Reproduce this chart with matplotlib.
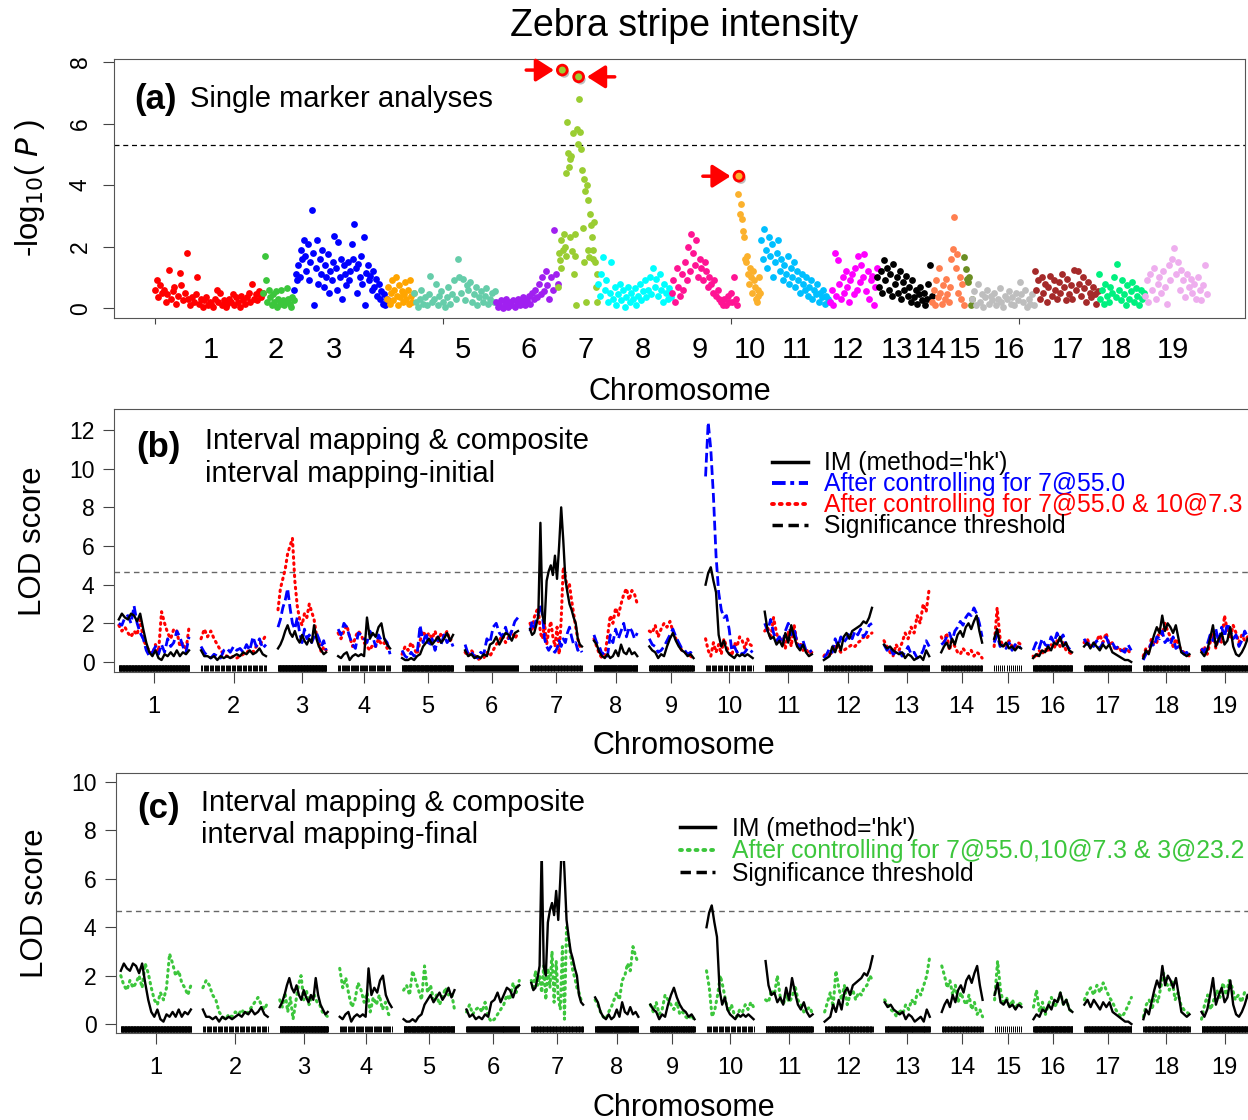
import numpy as np
import matplotlib.pyplot as plt
from matplotlib import patheffects as pe
from matplotlib.lines import Line2D
from matplotlib.patches import Rectangle
from matplotlib.transforms import blended_transform_factory

plt.rcParams['font.family'] = ['Liberation Sans', 'DejaVu Sans']

chroms = [str(i) for i in range(1, 20)]
# markers per chromosome (panel a width) and map length in cM (panels b, c)
n_markers = [188, 54, 161, 47, 142, 108, 69, 128, 115, 40, 120, 82, 95, 56, 14, 108, 111, 80, 109]
map_len = [146, 135, 100, 108, 106, 110, 108, 90, 92, 98, 98, 100, 94, 85, 56, 81, 98, 96, 96]
# where the chromosome numbers sit on the marker-index axis of panel (a)
label_pos_a = [97, 210, 311, 437, 535, 649, 748, 847, 946, 1033, 1114, 1203, 1288, 1347, 1406, 1483, 1585, 1668, 1767]
chrom_colors = ['#FF0000', '#3CC63C', '#0000FF', '#FFA500', '#66CDAA', '#A020F0', '#9ACD32',
                '#00FFFF', '#FF1493', '#FBB12D', '#00BFFF', '#FF00FF', '#000000', '#FF7F50',
                '#6B8E23', '#BEBEBE', '#A52A2A', '#00F07F', '#EEAEEE']

neglogp = [
    "0.6 0.9 0.35 0.75 0.5 0.6 0.2 0.45 1.25 0.3 0.55 0.7 0.15 0.4 1.15 0.75 0.25 0.5 1.8 0.3 0.1 0.35 0.2 0.45 1.0 0.15 0.3 0.05 0.25 0.35 0.1 0.2 0.15 0.05 0.3 0.6 0.2 0.5 0.1 0.25 0.05 0.15 0.3 0.2 0.45 0.1 0.35 0.2 0.05 0.4 0.25 0.15 0.35 0.5 0.2 0.8 0.3 0.45 0.25 0.55 0.35 0.5",
    "0.5 1.7 0.9 0.2 0.6 0.35 0.1 0.45 0.2 0.55 0.05 0.3 0.15 0.6 0.25 0.1 0.2 0.65 0.3 0.15 0.05 0.35 0.25",
    "0.6 1.1 0.9 1.4 1.0 1.9 1.6 2.2 1.7 1.2 2.1 0.9 1.5 3.2 1.8 0.1 1.3 2.2 0.8 1.6 1.1 1.9 0.7 1.4 1.0 1.75 0.5 1.2 0.9 1.5 2.35 1.3 0.6 2.15 1.0 1.6 0.3 1.4 1.1 0.75 1.5 0.9 1.2 2.1 1.6 2.75 1.3 0.5 1.45 1.0 1.7 0.8 2.3 0.1 1.15 1.4 0.9 1.05 0.6 1.2 0.7 0.95 0.4 0.8 0.3 0.55 0.15 0.45 0.1 0.3",
    "0.3 0.7 0.15 0.5 0.9 0.25 0.6 1.0 0.4 0.1 0.75 0.35 0.55 0.2 0.45 0.85 0.3 0.6 0.15 0.9 0.4 0.2 0.5",
    "0.5 0.2 0.05 0.3 0.6 0.15 0.35 0.1 0.45 1.05 0.2 0.3 0.8 0.1 0.4 0.55 0.2 0.05 0.35 0.7 0.15 0.45 0.9 0.3 1.6 1.0 0.5 0.95 0.25 0.75 0.6 0.85 0.2 0.45 0.7 0.1 0.35 0.55 0.2 0.4 0.65 0.15 0.3 0.5 0.2 0.55",
    "0.2 0.05 0.1 0.25 0.0 0.15 0.3 0.05 0.2 0.1 0.25 0.05 0.15 0.3 0.1 0.2 0.35 0.1 0.25 0.4 0.15 0.5 0.3 0.6 0.35 0.8 0.45 1.0 0.55 1.2 0.75 0.3 1.0 0.6 2.55 1.1 0.8",
    "0.7 1.8 1.55 2.2 1.3 7.74 1.9 2.4 2.0 4.4 1.7 6.06 5.03 4.6 4.84 2.3 4.95 1.85 5.68 1.1 2.4 1.7 0.1 5.84 5.35 7.52 6.8 5.74 5.19 4.5 2.6 4.2 1.5 3.8 0.2 4.0 3.5 1.9 1.65 3.06 2.7 2.3 1.9 1.6 2.8 1.5 0.7 0.2 1.1",
    "0.8 0.4 1.1 1.65 0.6 0.9 0.2 0.5 1.5 0.3 0.7 0.1 0.45 0.8 0.25 0.6 0.05 0.35 0.7 0.2 0.5 0.3 0.65 0.1 0.4 0.8 0.25 0.55 0.9 0.35 0.6 1.0 0.45 1.3 0.7 0.95 0.4 1.1 0.6 0.2 0.8 0.5 0.3 0.65 0.35",
    "0.5 0.9 0.2 1.3 0.7 0.4 1.1 0.6 1.5 0.9 2.0 1.2 2.4 1.8 1.4 2.2 1.0 1.6 1.3 0.9 1.5 1.2 0.7 1.0 0.8 0.5 0.9 0.4 0.6 0.3 0.2 0.1 0.3 0.1 0.4 0.2 0.5 0.2 1.0 0.3 0.1",
    "3.7 4.29 3.06 3.4 2.9 2.5 2.3 1.6 1.5 1.7 1.1 0.8 1.3 1.0 0.5 1.2 0.9 0.7 0.3 0.2 0.6 0.4 1.0 0.5",
    "2.2 1.6 2.57 1.9 1.3 2.3 1.7 2.1 1.0 1.5 1.8 2.2 1.2 1.6 0.9 1.4 1.1 1.7 0.8 1.3 1.0 1.5 0.7 1.2 0.9 0.5 1.1 0.8 0.6 1.0 0.4 0.7 0.9 0.3 0.6 0.45 0.8 0.2 0.5 0.35 0.6 0.15 0.4 0.3 0.2",
    "0.2 0.6 0.1 1.8 0.4 1.55 0.8 0.3 1.0 0.5 1.2 0.7 0.2 0.9 1.1 0.45 1.3 0.6 1.7 0.85 1.4 1.0 1.75 0.55 1.2 0.3 0.9 1.05 0.1 0.7 1.3",
    "1.0 0.7 1.2 0.5 1.55 0.9 1.3 0.6 1.1 0.4 1.45 0.8 1.0 0.5 1.2 0.3 0.85 0.6 1.05 0.4 0.7 0.2 0.9 0.35 0.6 0.15 0.45 0.7 0.25 0.5 0.1 0.3 0.8 1.4 0.4",
    "0.2 0.6 0.1 0.9 0.35 1.3 0.5 0.15 0.75 0.3 0.95 0.45 0.2 0.7 1.6 1.93 2.95 1.3 1.75 0.5 1.0 0.3 0.8 0.1",
    "1.65 1.27 0.95 0.85 1.0 0.1 0.3",
    "0.3 0.55 0.1 0.8 0.2 0.45 0.05 0.35 0.6 0.15 0.4 0.25 0.5 0.1 0.3 0.65 0.2 0.05 0.4 0.3 0.55 0.15 0.35 0.1 0.5 0.25 0.85 0.45 0.2 0.6 0.05 0.3 0.15 0.45 0.1",
    "1.2 0.6 0.9 0.3 1.0 0.5 0.8 0.2 0.7 1.05 0.4 0.9 0.6 0.3 0.85 0.5 1.1 0.7 0.25 0.95 0.45 0.75 0.3 1.25 0.6 1.2 0.8 0.4 1.0 0.65 0.2 0.85 0.5 0.35 0.7 0.45 0.15 0.55",
    "1.1 0.3 0.6 0.15 0.8 0.4 0.2 0.7 0.5 1.0 0.35 1.45 0.6 0.25 0.9 0.45 0.1 0.75 0.3 0.55 0.85 0.2 0.65 0.4 0.1 0.6 0.3 0.5",
    "0.4 0.9 0.2 1.1 0.6 1.3 0.3 0.8 1.0 0.5 1.2 0.7 0.15 1.4 0.9 1.6 1.97 1.1 1.5 0.6 1.25 0.9 0.35 1.1 0.7 0.95 0.5 0.8 0.3 1.0 0.6 0.25 0.75 1.4 0.45",
]
# top hits marked with red arrows: (chromosome, -log10 P, arrow side)
top_hits = [(7, 7.74, 'left'), (7, 7.52, 'right'), (10, 4.29, 'left')]
sig_p = 5.32

lod_im = [
    "2.2 2.5 2.3 2.2 2.5 2.4 2.1 2.5 1.7 1.0 0.5 0.3 0.6 0.2 0.1 0.4 0.3 0.5 0.3 0.6 0.3 0.5 0.4 0.6",
    "0.6 0.3 0.3 0.2 0.3 0.1 0.3 0.2 0.3 0.2 0.3 0.4 0.3 0.5 0.4 0.6 0.4 0.5 0.7 0.4 0.3",
    "0.7 0.9 1.2 1.6 1.9 1.5 1.3 1.6 1.2 1.0 1.4 1.1 0.9 1.2 1.0 1.9 1.2 0.8 0.6 0.4 0.5",
    "0.3 0.2 0.4 0.5 0.1 0.3 0.4 0.3 0.4 0.3 2.3 1.2 1.5 1.3 1.8 2.0 1.2 0.9 0.7",
    "0.2 0.1 0.1 0.2 0.1 0.3 0.4 0.8 1.0 1.2 0.9 1.1 1.3 1.0 1.2 1.5 1.1 1.4",
    "0.6 0.3 0.4 0.2 0.3 0.2 0.4 0.3 0.9 1.0 1.3 0.9 1.2 1.5 1.4 1.1 1.5 1.6",
    "1.7 1.4 1.5 1.9 2.4 7.2 2.4 2.0 4.2 4.7 5.0 4.5 5.5 4.3 6.0 8.0 6.3 4.3 3.6 3.0 2.7 2.3 2.0 1.2 0.9 0.8",
    "1.1 0.9 0.5 0.3 0.2 0.4 0.2 0.3 0.6 0.3 0.9 0.5 0.4 0.7 0.4 0.5 0.3",
    "0.8 0.6 0.5 0.2 0.4 0.3 0.8 1.2 1.5 1.1 0.8 0.6 0.5 0.3 0.4 0.2",
    "4.0 4.6 4.9 4.2 3.6 1.4 0.8 1.1 0.6 0.4 0.3 0.2 0.4 0.3 0.4 0.3 0.4 0.3 0.2",
    "2.6 1.6 1.2 1.3 0.9 1.1 0.8 1.5 1.0 1.9 1.3 0.8 0.6 0.9 0.5 0.3 0.4",
    "0.1 0.2 0.3 0.8 0.5 1.0 0.6 1.3 1.5 1.2 1.6 1.7 1.8 1.9 2.1 2.0 2.3 2.8",
    "0.9 0.7 0.8 0.6 0.5 0.4 0.5 0.2 0.4 0.3 0.1 0.2 0.3 0.1 0.6 0.3",
    "0.5 0.8 1.0 0.7 1.2 0.9 1.4 1.6 1.3 1.8 2.0 1.7 2.1 2.4 1.6 1.0",
    "1.2 1.7 0.9 0.8 1.0 0.7 0.8 0.6 0.8 0.7",
    "0.2 0.4 0.3 0.6 0.5 0.8 0.6 1.0 0.9 1.3 0.8 1.0 0.6 0.5",
    "0.8 1.0 0.7 1.0 0.8 0.6 0.9 0.7 0.9 0.5 0.4 0.3 0.2 0.1 0.1 0.0",
    "0.2 0.6 0.4 0.9 1.4 1.8 1.5 2.4 1.6 2.0 1.8 1.5 1.9 1.2 0.5 0.4 0.3 0.4",
    "0.5 0.3 0.6 1.2 1.9 0.8 1.2 1.5 0.9 1.1 1.8 0.8 0.4 0.3 0.5 0.8 1.2",
]
lod_cim_7 = [
    "2.0 1.9 2.3 2.4 2.0 2.9 2.0 1.5 1.2 0.6 0.3 0.5 0.8 0.4 0.9 0.5 1.2 0.8 1.0 1.6 1.3 0.8 0.5 1.3",
    "0.8 0.5 0.3 0.2 0.4 0.3 0.2 0.6 0.7 0.5 0.8 0.6 0.7 0.5 0.9 0.6 1.3 0.8 1.2 0.7 0.9",
    "1.8 2.2 2.8 3.2 3.8 2.8 2.0 1.7 2.3 1.5 1.0 1.7 1.2 1.4 1.0 1.3 1.5 1.2 0.8 1.1 0.6",
    "1.7 1.4 2.0 1.8 1.3 0.9 0.7 1.5 1.4 1.2 1.0 1.6 1.3 0.8 1.4 1.1 1.2 1.0 0.4",
    "0.6 0.3 0.2 0.5 0.3 0.4 1.9 1.0 1.5 0.8 1.2 0.6 1.3 0.9 1.4 1.0 1.2 0.8",
    "0.9 0.4 0.5 0.3 0.2 0.5 0.4 1.2 1.0 1.8 2.0 1.5 1.3 1.8 1.2 1.6 2.1 2.3",
    "1.6 2.1 1.8 2.2 2.5 3.0 2.4 1.2 0.8 0.6 0.8 0.6 0.5 0.7 1.1 0.8 1.2 1.0 1.5 1.8 1.3 0.9 1.0 0.6 0.7 0.5",
    "1.4 1.0 0.8 0.4 0.5 0.3 1.4 1.0 1.7 1.2 1.6 2.0 1.3 1.8 1.6 1.2 1.5",
    "1.2 0.9 0.8 0.5 0.6 0.8 1.1 1.4 1.7 1.3 1.0 0.7 0.6 0.4 0.5 0.3",
    "9.6 12.4 11.0 8.6 5.5 3.6 2.7 2.3 2.4 1.7 0.6 0.8 0.5 0.6 0.4 0.5 0.7 0.6 0.5",
    "2.0 1.6 2.2 1.5 1.1 1.3 0.9 1.6 2.0 1.4 1.7 1.0 0.7 1.1 0.6 0.5 0.6",
    "0.2 0.4 0.7 0.5 1.2 0.8 1.3 1.0 1.2 1.5 1.2 1.6 1.4 1.7 1.3 1.5 1.9 2.0",
    "0.9 0.6 0.8 0.4 0.5 0.6 0.3 0.5 0.8 0.4 0.5 0.2 0.3 0.6 1.1 0.8",
    "0.9 1.0 1.3 1.5 1.1 1.6 1.8 2.1 1.9 2.3 2.5 2.4 2.8 2.5 2.0 1.3",
    "1.0 1.4 0.8 0.9 0.7 1.0 0.6 0.9 0.7 0.8",
    "0.6 1.0 0.7 1.2 0.9 0.8 1.3 1.0 1.5 1.1 1.4 0.9 0.7 0.5",
    "1.2 0.9 1.0 0.8 1.1 0.7 1.0 1.3 0.9 1.0 0.7 0.8 0.6 0.5 0.9 0.6",
    "0.1 0.4 0.6 1.0 0.8 1.3 1.2 1.6 1.0 1.2 0.9 1.3 0.7 0.8 0.6 0.4 0.5 0.3",
    "0.7 0.5 0.9 1.4 1.1 1.7 1.0 1.8 1.3 2.0 1.6 1.2 1.4 0.8 1.1 1.6 1.3",
]
lod_cim_7_10 = [
    "1.9 1.6 1.8 1.5 1.3 1.6 1.4 2.2 1.2 0.8 0.6 0.4 0.9 0.5 2.6 2.0 1.5 1.2 1.7 1.6 0.8 1.0 0.6 1.8",
    "1.2 1.7 1.3 1.6 1.2 0.9 0.6 0.4 0.3 0.2 0.3 0.2 0.3 0.4 0.5 0.6 0.5 0.8 0.9 1.1 1.4",
    "2.7 3.8 4.3 4.8 5.6 6.0 6.4 4.2 2.9 2.2 1.9 2.5 2.3 3.0 2.6 2.2 1.4 1.0 0.5 0.8 0.6",
    "1.5 1.2 1.6 1.9 1.3 0.8 1.3 1.6 1.4 1.0 0.8 0.6 0.9 0.8 1.2 0.9 1.0 0.7 0.8",
    "0.4 0.8 0.6 1.0 0.7 0.4 1.1 1.6 1.3 1.5 1.2 1.6 1.0 1.5 1.3 1.6 1.1 1.3",
    "0.5 0.3 0.6 0.4 0.1 0.2 0.2 0.5 0.3 0.6 0.9 1.1 1.4 1.0 1.3 1.6 1.2 1.5",
    "2.0 1.7 2.3 2.6 2.8 1.5 1.2 2.0 0.9 1.6 2.1 1.3 0.8 1.8 0.4 2.2 4.9 4.4 3.8 4.0 3.2 2.5 1.8 1.2 0.8 0.6",
    "1.2 0.8 0.4 0.2 0.3 1.3 2.4 2.0 2.8 2.4 3.0 3.5 3.8 3.2 3.7 3.5 3.0",
    "1.6 1.5 1.9 1.3 1.7 2.0 1.8 2.1 1.6 1.2 0.9 0.6 0.5 0.4 0.3 0.2",
    "1.2 0.6 0.3 1.0 0.5 0.9 0.4 1.2 0.8 0.5 0.3 1.0 0.8 1.3 1.1 0.7 1.2 0.9 0.8",
    "1.6 1.8 1.2 2.3 1.5 1.0 1.2 0.7 1.6 0.8 1.9 0.9 1.0 0.6 0.7 0.4 0.5",
    "0.3 0.5 0.3 0.6 0.9 0.7 0.5 0.6 0.7 0.8 0.9 0.8 1.0 1.1 1.3 1.2 1.4 1.5",
    "1.1 0.8 0.5 0.3 0.9 0.6 1.0 1.5 1.2 1.8 1.5 2.4 2.0 3.0 2.6 3.8",
    "1.3 1.0 1.5 0.6 1.1 0.8 0.5 0.4 0.7 0.5 0.4 0.6 0.3 0.5 0.4 0.2",
    "0.8 2.8 1.2 0.8 0.9 1.1 0.8 0.7 1.0 0.9",
    "0.3 0.2 0.6 0.4 0.7 0.5 0.9 0.7 1.1 0.8 1.0 0.6 0.5 0.4",
    "1.0 1.2 0.8 0.9 1.1 1.4 1.0 1.5 0.9 1.0 0.6 0.8 0.5 0.7 0.6 0.4",
    "0.3 0.7 0.5 1.2 0.9 1.0 1.7 1.4 2.0 1.6 1.3 0.8 1.2 0.9 0.6 0.5 0.4 0.3",
    "0.6 0.8 0.4 1.0 1.5 0.7 1.3 1.0 2.4 1.6 1.2 1.9 1.5 1.0 1.4 1.1 1.3",
]
lod_cim_final = [
    "2.0 1.6 1.4 1.8 1.5 1.7 2.0 1.5 2.5 2.1 1.5 1.0 0.8 1.3 1.0 1.5 2.9 2.5 2.0 2.2 1.7 1.5 1.2 1.6",
    "1.5 1.8 1.6 1.2 1.0 0.5 0.3 0.2 0.4 0.3 0.5 0.4 0.6 0.4 0.5 0.7 0.9 1.1 0.8 0.6 0.9",
    "1.0 0.7 1.3 0.5 1.1 0.2 0.9 1.6 2.0 1.0 1.4 0.8 1.1 1.2 0.9 0.8 0.5 0.4 0.3",
    "2.3 1.5 1.9 1.2 0.7 1.0 1.7 1.4 0.9 1.3 0.5 1.1 0.8 1.2 0.6 0.9 0.4 0.3",
    "1.4 1.6 1.2 2.2 1.8 1.4 1.0 2.4 1.3 1.6 1.0 1.2 0.8 1.1 1.5 1.2 1.3 0.6",
    "0.5 0.8 0.4 0.6 0.7 0.5 0.9 0.3 0.1 0.2 0.4 0.6 0.8 1.2 1.0 1.7 1.3 1.8",
    "1.8 1.4 2.2 1.6 2.0 1.3 2.4 1.0 2.3 1.5 3.0 0.9 2.6 1.1 0.6 3.2 0.2 4.0 3.5 2.8 2.2 1.9 1.5 1.3 1.0 0.9",
    "1.0 0.8 0.5 0.3 0.2 0.5 0.7 1.0 1.3 1.0 1.8 2.0 2.5 2.2 3.2 2.8 2.5",
    "0.8 0.5 0.9 0.4 0.6 1.2 1.0 0.8 0.6 0.9 0.4 0.5 0.3 0.2 0.4 0.1",
    "2.2 1.5 0.3 0.6 1.2 2.0 1.5 0.9 0.5 0.8 0.4 0.3 0.6 0.5 0.8 0.6 0.9 0.7",
    "1.0 0.9 1.4 1.2 2.0 1.1 0.8 1.2 0.9 1.1 1.6 1.0 0.8 0.5 0.6 0.7 0.4",
    "0.5 0.9 1.3 0.7 2.2 1.5 1.0 1.6 0.8 1.2 1.4 1.0 1.3 1.2 1.5 1.6 2.0 1.8",
    "1.0 0.8 0.6 0.5 0.3 0.6 0.4 0.8 0.6 1.0 0.8 1.4 1.2 1.6 2.0 2.8",
    "2.4 2.0 1.5 1.8 1.2 1.6 0.9 1.3 1.0 0.8 1.2 0.6 0.9 0.4 0.6 0.3",
    "1.0 2.6 1.4 0.8 1.1 0.7 1.0 0.6 0.9 0.8",
    "0.7 1.4 0.5 0.9 0.4 0.8 1.1 0.7 0.9 1.3 0.8 1.0 0.6 0.5",
    "1.0 1.3 1.5 1.2 1.6 1.3 1.7 1.4 1.1 0.9 0.6 0.4 0.3 0.5 0.8 1.1",
    "0.3 0.8 1.0 0.6 1.2 0.9 1.5 2.1 1.7 1.4 1.8 1.0 1.3 0.8 0.6 0.5 0.4",
    "0.2 0.8 1.2 0.6 1.0 1.4 1.1 1.7 1.2 1.8 1.5 1.0 1.2 0.9 1.3 1.1",
]
sig_lod_b = 4.68
sig_lod_c = 4.67
gap = 25

green = '#3CC63C'

def vals(s):
    return np.array(s.split(), dtype=float)

fig = plt.figure(figsize=(12.48, 11.2), dpi=100)
ax_a = fig.add_axes([114/1248, 1 - 318/1120, 1131/1248, 259/1120])
ax_b = fig.add_axes([114/1248, 1 - 672/1120, 1136/1248, 263/1120])
ax_c = fig.add_axes([116/1248, 1 - 1033/1120, 1134/1248, 260/1120])

fig.text(684/1248, 1 - 26/1120, 'Zebra stripe intensity', ha='center', va='center', fontsize=27)

# ---- (a) single marker manhattan plot
starts = np.concatenate([[0], np.cumsum(n_markers)[:-1]])
for i, s in enumerate(neglogp):
    y = vals(s)
    x = np.linspace(starts[i], starts[i] + n_markers[i] - 1, len(y))
    ax_a.scatter(x, y, s=24, color=chrom_colors[i], lw=0, zorder=3)

for chrom, v, side in top_hits:
    i = chrom - 1
    y = vals(neglogp[i])
    x = np.linspace(starts[i], starts[i] + n_markers[i] - 1, len(y))
    k = np.argmin(np.abs(y - v))
    ax_a.scatter([x[k]], [y[k]], s=50, color=chrom_colors[i], edgecolors='red', linewidths=2,
                 zorder=4, path_effects=[pe.SimplePatchShadow(offset=(1.5, -2), shadow_rgbFace='gray', alpha=0.5), pe.Normal()])
    dx = -26 if side == 'left' else 26
    ax_a.annotate('', xy=(x[k], y[k]), xytext=(dx, 0), textcoords='offset points',
                  arrowprops=dict(arrowstyle='-|>,head_length=0.55,head_width=0.35', color='red',
                                  lw=2.5, shrinkA=0, shrinkB=6, mutation_scale=20))

ax_a.axhline(sig_p, color='black', lw=0.9, dashes=(4, 3))
ax_a.set_ylim(-0.32, 8.1)
ax_a.set_xlim(-71, 1892)
ax_a.set_yticks([0, 2, 4, 6, 8])
ax_a.tick_params(axis='y', labelrotation=90, labelsize=16.5, length=8, pad=8, color='#444')
ax_a.set_xticks([0, 500, 1000, 1500])
ax_a.set_xticklabels([])
ax_a.tick_params(axis='x', length=4, color='#444')
ax_a.set_xticks(label_pos_a, chroms, minor=True)
ax_a.tick_params(axis='x', which='minor', length=0, pad=13, labelsize=21)
for lab in ax_a.get_yticklabels():
    lab.set_va('center')
for sp in ax_a.spines.values():
    sp.set_color('#555')
ax_a.text(0.018, 0.845, '(a)', transform=ax_a.transAxes, fontsize=25, fontweight='bold', va='center')
ax_a.text(0.067, 0.845, 'Single marker analyses', transform=ax_a.transAxes, fontsize=21, va='center')
fig.text(30/1248, 1 - 188/1120, '-log$_{10}$( $P$ )', rotation=90, ha='center', va='center', fontsize=22.5)
fig.text(680/1248, 1 - 392/1120, 'Chromosome', ha='center', va='center', fontsize=22)

# ---- (b), (c) interval mapping
offs = np.concatenate([[0], np.cumsum(np.array(map_len) + gap)[:-1]])
mids = offs + np.array(map_len) / 2

def draw_lod(ax, series, **kw):
    lines = []
    for i, s in enumerate(series):
        y = vals(s)
        x = offs[i] + np.linspace(0, map_len[i], len(y))
        ln, = ax.plot(x, y, **kw)
        lines.append(ln)
    return lines

def setup_lod(ax, ylim, yticks, sig):
    trans = blended_transform_factory(ax.transData, ax.transAxes)
    for i in range(len(map_len)):
        pos = offs[i] + np.linspace(0, map_len[i], n_markers[i])
        ax.vlines(pos, 0.003, 0.026, transform=trans, color='black', lw=0.7)
    ax.axhline(sig, color='#666', lw=1, dashes=(4, 3), zorder=1)
    ax.set_xlim(-10, offs[-1] + map_len[-1] + 5)
    ax.set_ylim(*ylim)
    ax.set_yticks(yticks)
    ax.set_xticks(mids, chroms)
    ax.tick_params(axis='both', labelsize=17, length=8, color='#444', pad=6)
    ax.tick_params(axis='x', pad=9)
    ax.tick_params(axis='y', labelsize=16.5)
    ax.spines['right'].set_visible(False)
    for sp in ax.spines.values():
        sp.set_color('#555')

leg_kw = dict(loc='upper left', frameon=False, fontsize=17.8, handlelength=1.45, handletextpad=0.65,
              borderaxespad=0, borderpad=0)
h_im = Line2D([], [], color='black', lw=2.5)
h_sig = Line2D([], [], color='black', lw=2.5, linestyle=(0, (3, 1.6)))
red_dots = (0, (0.5, 1.5))

setup_lod(ax_b, (-0.52, 13.09), range(0, 13, 2), sig_lod_b)
draw_lod(ax_b, lod_cim_7_10, color='red', lw=2.2, linestyle=red_dots, dash_capstyle='round')
draw_lod(ax_b, lod_cim_7, color='blue', lw=2, linestyle=(0, (3.5, 1.5)))
draw_lod(ax_b, lod_im, color='black', lw=1.7)
ax_b.text(0.02, 0.852, '(b)', transform=ax_b.transAxes, fontsize=25, fontweight='bold', va='center')
ax_b.text(0.08, 0.815, 'Interval mapping & composite\ninterval mapping-initial', transform=ax_b.transAxes,
          fontsize=21, va='center', linespacing=1.2)
h_b1 = Line2D([], [], color='blue', lw=2.8, linestyle=(0, (3.5, 1.2, 1, 1.2)))
h_b2 = Line2D([], [], color='red', lw=2.8, linestyle=red_dots, dash_capstyle='round')
ax_b.legend([h_im, h_b1, h_b2, h_sig],
            ["IM (method='hk')", 'After controlling for 7@55.0', 'After controlling for 7@55.0 & 10@7.3',
             'Significance threshold'],
            labelcolor=['black', 'blue', 'red', 'black'], bbox_to_anchor=(0.579, 0.839),
            labelspacing=-0.12, **leg_kw)
fig.text(684/1248, 1 - 746/1120, 'Chromosome', ha='center', va='center', fontsize=22)
fig.text(33/1248, 1 - 541/1120, 'LOD score', rotation=90, ha='center', va='center', fontsize=22.5)

setup_lod(ax_c, (-0.37, 10.37), range(0, 11, 2), sig_lod_c)
draw_lod(ax_c, lod_cim_final, color=green, lw=2.2, linestyle=red_dots, dash_capstyle='round')
im_c = draw_lod(ax_c, lod_im, color='black', lw=1.7)
clip = Rectangle((0, -1), 1, 7.72, transform=blended_transform_factory(ax_c.transAxes, ax_c.transData))
for ln in im_c:
    ln.set_clip_path(clip)
ax_c.text(0.019, 0.865, '(c)', transform=ax_c.transAxes, fontsize=25, fontweight='bold', va='center')
ax_c.text(0.075, 0.823, 'Interval mapping & composite\ninterval mapping-final', transform=ax_c.transAxes,
          fontsize=21, va='center', linespacing=1.2)
h_c = Line2D([], [], color=green, lw=2.8, linestyle=red_dots, dash_capstyle='round')
ax_c.legend([h_im, h_c, h_sig],
            ["IM (method='hk')", 'After controlling for 7@55.0,10@7.3 & 3@23.2', 'Significance threshold'],
            labelcolor=['black', green, 'black'], bbox_to_anchor=(0.497, 0.832),
            labelspacing=-0.06, **leg_kw)
fig.text(684/1248, 1 - 1108/1120, 'Chromosome', ha='center', va='center', fontsize=22)
fig.text(35/1248, 1 - 903/1120, 'LOD score', rotation=90, ha='center', va='center', fontsize=22.5)

fig.savefig('out.png', dpi=100)
